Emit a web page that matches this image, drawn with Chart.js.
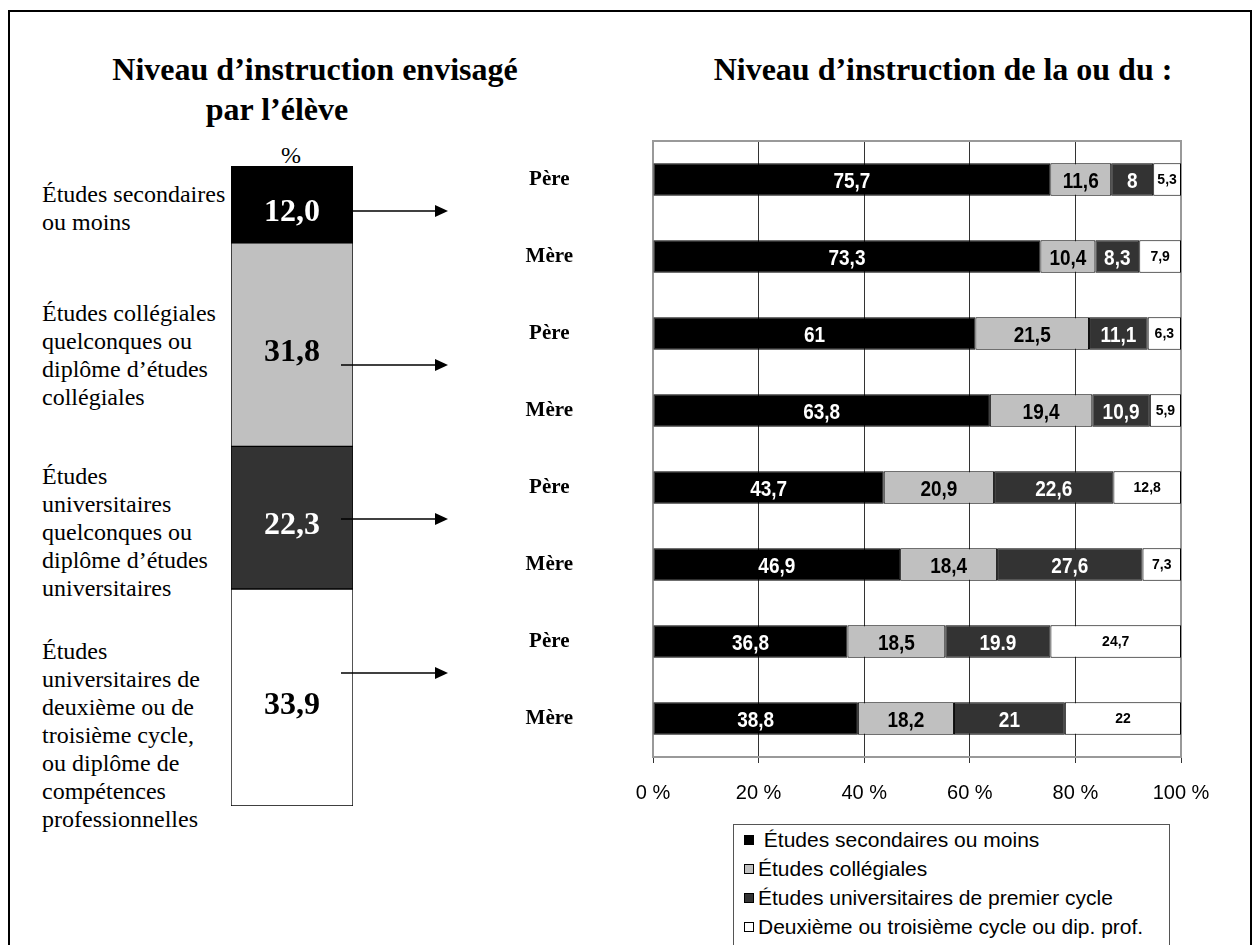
<!DOCTYPE html>
<html><head><meta charset="utf-8">
<script src="https://cdn.jsdelivr.net/npm/chart.js@4.4.1/dist/chart.umd.min.js"></script>
<style>
html,body{margin:0;padding:0;background:#fff;}
body{width:1259px;height:945px;position:relative;overflow:hidden;font-family:'Liberation Serif','Times New Roman',serif;color:#000;}
#frame{position:absolute;left:8px;top:10px;width:1244px;height:980px;border:2px solid #000;box-sizing:border-box;}
.title{position:absolute;width:700px;text-align:center;font-weight:bold;font-size:32px;line-height:32px;white-space:nowrap;}
.desc{position:absolute;left:42px;font-size:24px;line-height:28px;white-space:nowrap;}
#legend{position:absolute;left:733px;top:824px;width:437px;height:140px;border:1px solid #555;box-sizing:border-box;font-family:'Liberation Sans',Arial,sans-serif;font-size:21px;background:#fff;}
.li{height:29px;display:flex;align-items:center;padding-left:10px;white-space:pre;}
.sw{width:10px;height:10px;border:1px solid #000;box-sizing:border-box;margin-right:4px;flex:none;}
#pct{position:absolute;left:271px;width:40px;text-align:center;top:143px;font-size:24px;line-height:24px;}
canvas{position:absolute;}
#left{left:226px;top:161px;z-index:2;}
#right{left:330px;top:120px;z-index:3;}
</style></head>
<body>
<div id="frame"></div>
<div class="title" style="left:-35px;top:53px;">Niveau d’instruction envisagé</div>
<div class="title" style="left:-73px;top:93px;">par l’élève</div>
<div class="title" style="left:593px;top:53px;">Niveau d’instruction de la ou du :</div>
<div id="pct">%</div>
<div id="descs"></div>
<canvas id="left" width="132" height="650"></canvas>
<canvas id="right" width="929" height="687"></canvas>
<div id="legend"></div>
<script>
// ---- data ----
const categories = ['Père','Mère','Père','Mère','Père','Mère','Père','Mère'];
const secondaire = [75.7, 73.3, 61, 63.8, 43.7, 46.9, 36.8, 38.8];
const collegial = [11.6, 10.4, 21.5, 19.4, 20.9, 18.4, 18.5, 18.2];
const universitaire1 = [8, 8.3, 11.1, 10.9, 22.6, 27.6, 19.9, 21];
const universitaire1Labels = ['8', '8,3', '11,1', '10,9', '22,6', '27,6', '19.9', '21'];
const cycles23 = [5.3, 7.9, 6.3, 5.9, 12.8, 7.3, 24.7, 22];
const seriesNames = ['Études secondaires ou moins', 'Études collégiales', 'Études universitaires de premier cycle', 'Deuxième ou troisième cycle ou dip. prof.'];
const xTicks = [0, 20, 40, 60, 80, 100];
const eleveValues = [12.0, 31.8, 22.3, 33.9];
const eleveDescriptions = [
  ['Études secondaires', 'ou moins'],
  ['Études collégiales', 'quelconques ou', 'diplôme d’études', 'collégiales'],
  ['Études', 'universitaires', 'quelconques ou', 'diplôme d’études', 'universitaires'],
  ['Études', 'universitaires de', 'deuxième ou de', 'troisième cycle,', 'ou diplôme de', 'compétences', 'professionnelles']
];

// ---- styles / layout ----
const seriesColors = ['#000000', '#C0C0C0', '#333333', '#FFFFFF'];
const labelColors = ['#FFFFFF', '#000000', '#FFFFFF', '#000000'];
const descTops = [180, 299, 462, 637];
const RIGHT_LEFT = 330, LEFT_LEFT = 226, ARROW_TIP = 448;

const descs = document.getElementById('descs');
eleveDescriptions.forEach((lines, k) => {
  const d = document.createElement('div');
  d.className = 'desc';
  d.style.top = descTops[k] + 'px';
  d.innerHTML = lines.join('<br>');
  descs.appendChild(d);
});

const fmt = v => String(v).replace('.', ',');

// ---- left chart ----
const leftLabels = {
  id: 'leftLabels',
  afterDatasetsDraw(chart) {
    const ctx = chart.ctx;
    chart.data.datasets.forEach((ds, k) => {
      chart.getDatasetMeta(k).data.forEach((el) => {
        const p = el.getProps(['x', 'y', 'base'], true);
        const cy = (p.y + p.base) / 2 + 8;
        ctx.save();
        ctx.font = 'bold 32px "Liberation Serif"';
        ctx.fillStyle = labelColors[k];
        ctx.textAlign = 'center';
        ctx.textBaseline = 'middle';
        ctx.fillText(ds.data[0].toFixed(1).replace('.', ','), p.x, cy);
        ctx.restore();
      });
    });
  }
};
const leftChart = new Chart(document.getElementById('left'), {
  type: 'bar',
  data: {
    labels: ['Élève'],
    datasets: eleveValues.map((v, k) => ({
      label: seriesNames[k], data: [v], backgroundColor: seriesColors[k],
      borderColor: '#000', borderWidth: 1, borderSkipped: false,
      barPercentage: 1, categoryPercentage: 1
    }))
  },
  options: {
    responsive: false, animation: false, devicePixelRatio: 1,
    layout: { padding: 5 },
    plugins: { legend: { display: false }, tooltip: { enabled: false } },
    scales: {
      x: { display: false, stacked: true },
      y: { display: false, stacked: true, min: 0, max: 100, reverse: true }
    }
  },
  plugins: [leftLabels]
});

// ---- right chart ----
const raw = [secondaire, collegial, universitaire1, cycles23];
const rowTotals = categories.map((_, i) => raw.reduce((s, a) => s + a[i], 0));

const frame = {
  id: 'frame',
  beforeDatasetsDraw(chart) {
    const a = chart.chartArea, ctx = chart.ctx;
    ctx.save();
    ctx.strokeStyle = '#999';
    ctx.lineWidth = 2;
    ctx.strokeRect(a.left, a.top, a.right - a.left, a.bottom - a.top);
    ctx.restore();
  }
};
const valueLabels = {
  id: 'valueLabels',
  afterDatasetsDraw(chart) {
    const ctx = chart.ctx;
    chart.data.datasets.forEach((ds, k) => {
      chart.getDatasetMeta(k).data.forEach((el, i) => {
        const p = el.getProps(['x', 'y', 'base'], true);
        const cx = (p.x + p.base) / 2;
        const txt = k === 2 ? universitaire1Labels[i] : fmt(raw[k][i]);
        ctx.save();
        ctx.fillStyle = labelColors[k];
        ctx.textAlign = 'center';
        ctx.textBaseline = 'middle';
        if (k < 3) {
          ctx.font = 'bold 19px "Liberation Sans"';
          ctx.translate(cx, p.y + 2);
          ctx.scale(1, 1.15);
          ctx.fillText(txt, 0, 0);
        } else {
          ctx.font = 'bold 14px "Liberation Sans"';
          ctx.fillText(txt, cx, p.y + 1);
        }
        ctx.restore();
      });
    });
  }
};
const arrows = {
  id: 'arrows',
  afterDraw(chart) {
    const ctx = chart.ctx, ys = chart.scales.y;
    const leftEdge = leftChart.chartArea.right + LEFT_LEFT - RIGHT_LEFT;
    const tip = ARROW_TIP - RIGHT_LEFT;
    for (let k = 0; k < categories.length / 2; k++) {
      const y = Math.round((ys.getPixelForValue(2 * k) + ys.getPixelForValue(2 * k + 1)) / 2 - 7);
      const x0 = leftEdge - (k === 0 ? 0 : 12);
      ctx.save();
      ctx.strokeStyle = '#000';
      ctx.fillStyle = '#000';
      ctx.lineWidth = 1.5;
      ctx.beginPath();
      ctx.moveTo(x0, y);
      ctx.lineTo(tip - 12, y);
      ctx.stroke();
      ctx.beginPath();
      ctx.moveTo(tip, y);
      ctx.lineTo(tip - 13, y - 6);
      ctx.lineTo(tip - 13, y + 6);
      ctx.closePath();
      ctx.fill();
      ctx.restore();
    }
  }
};

const rightChart = new Chart(document.getElementById('right'), {
  type: 'bar',
  data: {
    labels: categories,
    datasets: raw.map((arr, k) => ({
      label: seriesNames[k],
      data: arr.map((v, i) => v / rowTotals[i] * 100),
      backgroundColor: seriesColors[k],
      borderColor: '#000', borderWidth: 1, borderSkipped: false,
      barPercentage: 0.42, categoryPercentage: 1
    }))
  },
  options: {
    indexAxis: 'y', responsive: false, animation: false, devicePixelRatio: 1,
    layout: { padding: { top: 21, right: 78, bottom: 0, left: 0 } },
    plugins: { legend: { display: false }, tooltip: { enabled: false } },
    scales: {
      x: {
        stacked: true, min: xTicks[0], max: xTicks[xTicks.length - 1],
        afterBuildTicks: s => { s.ticks = xTicks.map(v => ({ value: v })); },
        ticks: { callback: v => v + ' %', font: { family: 'Liberation Sans', size: 20 }, color: '#000', padding: 18, maxRotation: 0, autoSkip: false },
        grid: { color: '#333', lineWidth: 1, tickLength: 6, drawTicks: true },
        border: { display: false },
        afterFit: s => { s.height = 50; }
      },
      y: {
        stacked: true,
        ticks: { font: { family: 'Liberation Serif', size: 21, weight: 'bold' }, color: '#000', padding: 0, crossAlign: 'center' },
        grid: { display: true, drawOnChartArea: false, drawTicks: true, tickLength: 80, color: 'rgba(0,0,0,0)', tickColor: 'rgba(0,0,0,0)' },
        border: { display: false },
        afterFit: s => { s.width = 653 - RIGHT_LEFT; s.paddingTop = 0; s.paddingBottom = 0; }
      }
    }
  },
  plugins: [frame, valueLabels, arrows]
});

// ---- legend (from chart datasets) ----
const legend = document.getElementById('legend');
rightChart.data.datasets.forEach((ds, k) => {
  const row = document.createElement('div');
  row.className = 'li';
  const sw = document.createElement('span');
  sw.className = 'sw';
  sw.style.background = ds.backgroundColor;
  const t = document.createElement('span');
  t.textContent = (k === 0 ? ' ' : '') + ds.label;
  row.appendChild(sw); row.appendChild(t);
  legend.appendChild(row);
});
</script>
</body></html>
